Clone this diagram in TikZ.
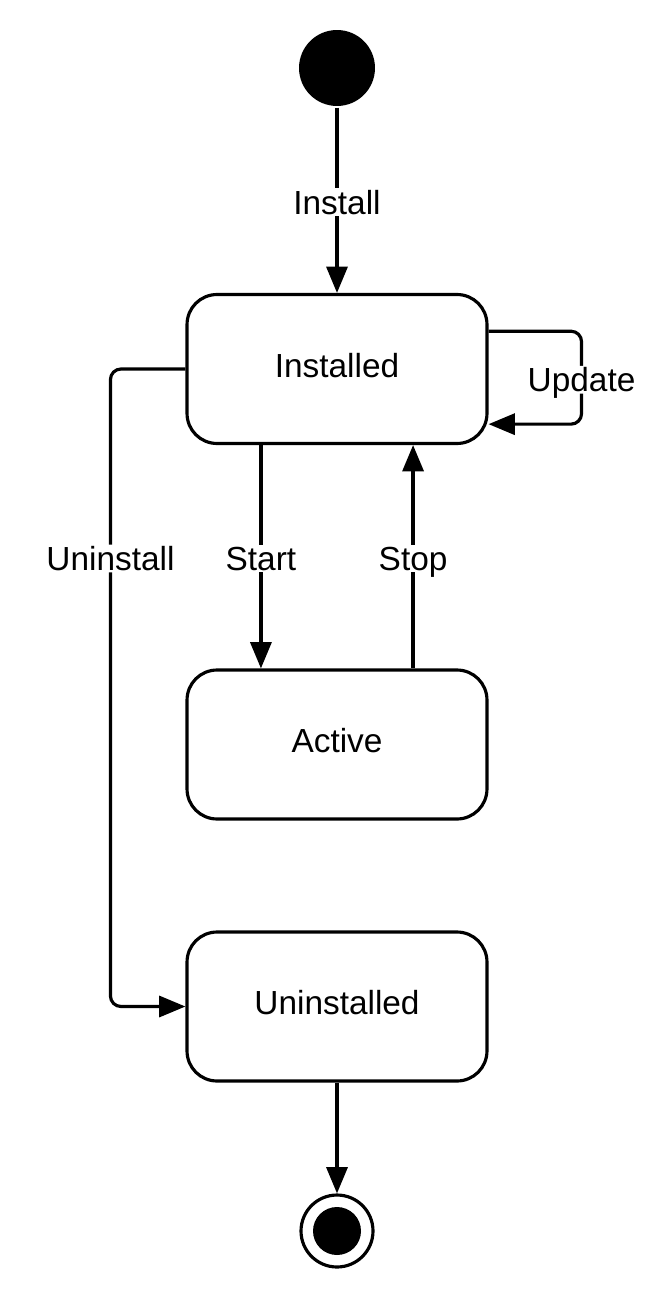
\documentclass[tikz,border=0pt]{standalone}
\usepackage{fontspec}
\setmainfont{Liberation Sans}
\usetikzlibrary{positioning, calc}
\usetikzlibrary{arrows.meta}
\usetikzlibrary{shapes,arrows}

\begin{document}
\begin{tikzpicture}[x=0.02cm,y=-0.02cm,line width=1.8pt,draw=black!100]
	\def \boxx{337}
	\tikzstyle{state}=[draw,rounded corners=0.6cm,minimum width=6cm,minimum height=2.98cm,text depth=0.16cm,font=\fontsize{19}{22}\selectfont]
	\tikzstyle{initial}=[circle,fill=black,inner sep=0pt,minimum size=1.52cm]
	\tikzstyle{final}=[circle,draw,fill=white,inner sep=0pt,minimum size=1.44cm]
	\tikzstyle{finaldot}=[circle,fill=black,inner sep=0pt,minimum size=0.96cm]
	\tikzstyle{annot}=[fill=white,inner sep=1pt,text depth=0pt,yshift=-0.04cm,font=\fontsize{19}{22}\selectfont]
	\tikzstyle{arr}=[-{Triangle[length=15pt,width=12pt]}]
	\useasboundingbox (0,0) rectangle (666,1314);

	% states
	\node[initial]	(init)	at (\boxx,68)		{};
	\node[state]	(installed)	at (\boxx,369)	{Installed};
	\node[state]	(active)	at (\boxx,744.5)	{Active};
	\node[state]	(uninstalled)	at (\boxx,1006.5)	{Uninstalled};
	\node[final]	(fin)	at (\boxx,1231)		{};
	\node[finaldot]	(findot)	at (\boxx,1231)	{};

	% transitions
	\draw[arr] (init) -- node[annot] {Install} (installed);
	\draw[arr] (installed.-135) -- node[annot] {Start} (active.135);
	\draw[arr] (active.45) -- node[annot] {Stop} (installed.-45);
	\draw[arr,rounded corners=6] (installed.14) -- ++(93,0) |- node[annot,pos=0.25] {Update} (installed.-20);
	\draw[arr,rounded corners=6] (installed.west) -- ++(-75,0) |- node[annot,pos=0.147] {Uninstall} (uninstalled.west);
	\draw[arr] (uninstalled) -- (fin);
\end{tikzpicture}
\end{document}
